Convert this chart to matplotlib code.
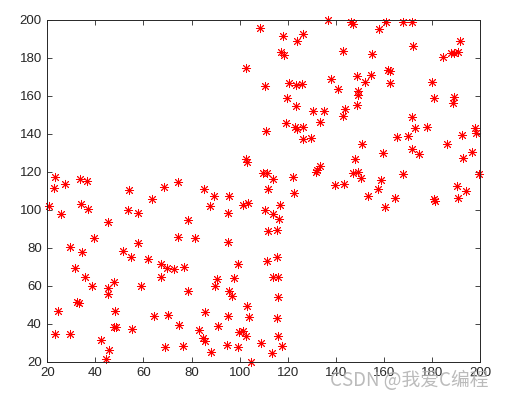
import numpy as np
import matplotlib
matplotlib.use("Agg")
import matplotlib.pyplot as plt

# puntos (grupo inferior izquierdo)
x1 = [31.5, 35.7, 38.5, 45.4, 45.4, 47.7, 58.8, 32.5, 33.3, 24.6,
      48.2, 23.2, 29.4, 42.2, 47.7, 48.6, 55.1, 45.8, 44.3, 64.5,
      70.1, 74.9, 69.0, 76.6, 67.2, 69.6, 72.7, 76.9, 78.7, 67.2,
      23.2, 22.8, 27.4, 33.6, 36.4, 54.0, 68.5, 74.5, 20.7, 25.6,
      34.0, 37.1, 53.7, 57.9, 63.7, 45.1, 78.7, 39.6, 74.5, 57.9,
      29.4, 34.6, 51.6, 54.8, 62.0,
      109.9, 111.5, 113.7, 122.3, 122.8, 112.0, 85.2, 89.5, 95.7, 87.7,
      101.5, 103.6, 95.3, 110.6, 113.7, 116.8, 116.4, 112.0, 115.7, 81.4,
      95.3, 99.5, 111.5, 115.4,
      90.7, 89.8, 97.7, 113.7, 116.1, 95.7, 96.7, 115.8, 103.2, 85.6,
      95.3, 104.0, 115.7, 91.1, 83.2, 84.6, 85.6, 99.9, 101.5, 102.5,
      116.1, 94.6, 99.5, 108.9, 117.5, 88.0, 113.3, 104.7]
y1 = [69.1, 64.8, 60.0, 59.0, 55.5, 62.1, 60.0, 51.2, 50.7, 46.7,
      46.7, 34.4, 34.4, 31.4, 38.4, 38.1, 37.2, 26.2, 21.2, 44.1,
      44.6, 39.3, 27.9, 28.4, 64.8, 69.1, 68.8, 70.0, 57.2, 71.4,
      117.0, 111.3, 113.5, 116.2, 115.1, 110.4, 111.8, 114.4, 102.0, 97.7,
      103.0, 100.4, 99.8, 98.4, 105.6, 93.4, 94.6, 84.9, 85.5, 82.6,
      80.2, 77.9, 78.4, 74.9, 74.1,
      119.1, 119.5, 116.0, 117.4, 109.0, 110.9, 110.9, 107.4, 107.4, 102.1,
      102.5, 103.4, 98.4, 99.8, 97.7, 102.5, 94.9, 89.0, 89.3, 84.9,
      82.8, 71.3, 73.2, 74.9,
      63.5, 60.0, 63.9, 64.8, 64.4, 57.4, 54.8, 53.9, 49.5, 46.0,
      44.1, 43.4, 42.8, 38.8, 36.7, 32.6, 30.9, 35.5, 36.2, 33.5,
      33.5, 28.8, 27.9, 29.7, 28.3, 24.9, 24.4, 20.0]

# grupo superior derecho
x2 = [136.9, 146.2, 147.3, 108.5, 118.2, 126.5, 124.0, 117.2, 118.6, 143.1,
      102.7, 110.6, 120.7, 123.3, 126.1, 138.0, 141.1, 148.7, 149.4,
      160.9, 168.1, 171.6, 158.0, 172.3, 155.2, 191.7, 184.7, 187.9, 189.3,
      191.0, 154.7, 161.9, 162.6, 152.2, 162.6, 179.9,
      119.8, 123.3, 130.4, 135.2, 149.1, 143.8, 142.9, 148.7, 133.4, 119.3,
      123.0, 124.0, 126.5, 111.0, 126.5, 129.7, 150.8, 102.7, 103.2, 148.0,
      133.4, 132.3, 131.8, 149.4, 147.3,
      181.0, 189.2, 188.9, 171.8, 173.0, 177.8, 165.3, 169.9, 197.9, 198.2,
      192.4, 186.4, 159.8, 171.6, 174.8, 196.5, 193.1, 168.1, 199.6,
      139.6, 143.5, 150.3, 158.8, 157.7, 153.5, 160.4,
      164.8, 180.7, 181.4, 190.4, 194.3, 190.8]
y2 = [199.8, 198.8, 197.6, 195.6, 191.4, 192.3, 188.6, 183.0, 181.2, 183.5,
      174.6, 165.1, 166.7, 165.8, 166.0, 168.6, 163.3, 170.4, 162.5,
      198.8, 198.8, 198.8, 195.3, 186.2, 182.1, 188.6, 180.4, 182.5, 182.5,
      183.0, 171.0, 173.4, 172.8, 167.2, 166.8, 167.2,
      158.6, 154.6, 152.1, 152.1, 160.4, 153.0, 149.3, 155.1, 146.3, 145.5,
      143.7, 142.3, 143.7, 141.6, 137.0, 137.6, 134.6, 126.7, 125.3, 126.7,
      123.0, 120.9, 119.8, 120.0, 119.1,
      158.6, 159.5, 156.3, 149.0, 142.8, 143.7, 138.1, 138.8, 143.2, 140.5,
      139.3, 134.6, 130.0, 131.8, 129.3, 130.2, 127.0, 118.8, 118.8,
      113.0, 113.5, 116.5, 115.6, 110.9, 107.4, 101.6,
      106.0, 105.6, 104.6, 112.4, 109.8, 106.0]

xticks = [20, 40, 60, 80, 100, 120, 140, 160, 180, 200]
yticks = [20, 40, 60, 80, 100, 120, 140, 160, 180, 200]

plt.rcParams['font.family'] = ['Liberation Sans', 'DejaVu Sans']

fig = plt.figure(figsize=(5.18, 3.95), dpi=100)
ax = fig.add_axes([0.0913, 0.0843, 0.8353, 0.8659])

x = np.array(x1 + x2)
y = np.array(y1 + y2)
ax.plot(x, y, linestyle="none", marker=(8, 2, 0), markersize=6.5,
        markeredgewidth=0.65, color="red", clip_on=False)

ax.set_xlim(20, 200)
ax.set_ylim(20, 200)
ax.set_xticks(xticks)
ax.set_yticks(yticks)
ax.tick_params(direction="in", length=3.5, width=0.6, labelsize=9.5,
               top=True, right=True, pad=4, colors="#262626")
for s in ax.spines.values():
    s.set_linewidth(0.7)
    s.set_color("#262626")

# marca de agua
fig.text(0.638, 0.022, "CSDN @我爱C编程", fontsize=13.5, color="#b0b0b0",
         alpha=0.85, family=['Noto Sans CJK SC', 'DejaVu Sans'])

fig.savefig("out.png", dpi=100)
